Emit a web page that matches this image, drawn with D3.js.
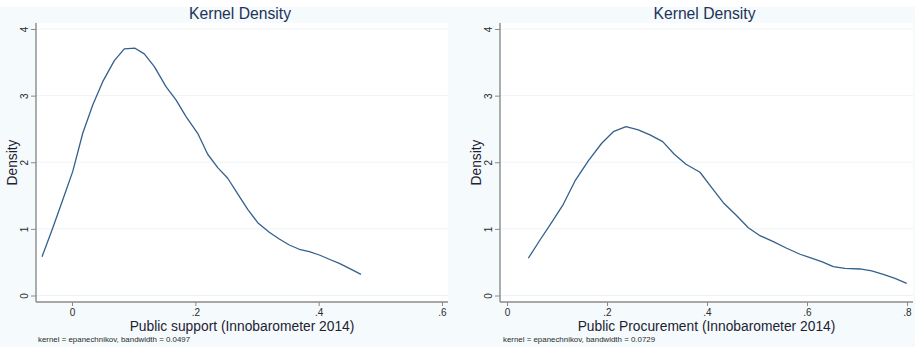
<!DOCTYPE html>
<html>
<head>
<meta charset="utf-8">
<script src="https://cdn.jsdelivr.net/npm/d3@7"></script>
<style>
  html, body { margin: 0; padding: 0; background: #f5fafc; }
  svg { display: block; font-family: "Liberation Sans", Arial, sans-serif; }
</style>
</head>
<body>
<svg id="chart" width="915" height="347"></svg>
<script>
// ---- data ----
const leftX = [-0.0486, -0.0324, -0.0151, 0.0011, 0.0174, 0.0336, 0.0498, 0.0686, 0.0848, 0.1022,
  0.1172, 0.1335, 0.1524, 0.1686, 0.1849, 0.2038, 0.2200, 0.2363, 0.2525, 0.2687,
  0.2849, 0.3012, 0.3199, 0.3361, 0.3524, 0.3686, 0.3848, 0.4010, 0.4172, 0.4334,
  0.4497, 0.4686];
const leftY = [0.583, 0.983, 1.434, 1.859, 2.435, 2.860, 3.210, 3.526, 3.701, 3.712,
  3.626, 3.435, 3.135, 2.935, 2.685, 2.435, 2.120, 1.919, 1.760, 1.524,
  1.294, 1.093, 0.949, 0.848, 0.758, 0.694, 0.658, 0.608, 0.544, 0.483,
  0.408, 0.318];

const rightX = [0.0426, 0.066, 0.0894, 0.1126, 0.136, 0.1626, 0.1894, 0.2126, 0.238, 0.2626,
  0.286, 0.3114, 0.3346, 0.358, 0.386, 0.4094, 0.4326, 0.458, 0.4826, 0.506,
  0.5326, 0.5594, 0.586, 0.606, 0.6294, 0.6526, 0.676, 0.706, 0.7294, 0.7526,
  0.776, 0.7994];
const rightY = [0.559, 0.833, 1.099, 1.369, 1.719, 2.020, 2.285, 2.459, 2.535, 2.485,
  2.410, 2.309, 2.120, 1.970, 1.850, 1.619, 1.393, 1.209, 1.018, 0.898,
  0.808, 0.709, 0.619, 0.568, 0.508, 0.432, 0.408, 0.398, 0.368, 0.318,
  0.258, 0.183];

const yTicks = [0, 1, 2, 3, 4];
const leftXTicks = [0, 0.2, 0.4, 0.6];
const rightXTicks = [0, 0.2, 0.4, 0.6, 0.8];

const titleText = "Kernel Density";
const yTitle = "Density";
const leftXTitle = "Public support (Innobarometer 2014)";
const rightXTitle = "Public Procurement (Innobarometer 2014)";
const leftNote = "kernel = epanechnikov, bandwidth = 0.0497";
const rightNote = "kernel = epanechnikov, bandwidth = 0.0729";

// ---- layout ----
const panels = [
  { xs: leftX, ys: leftY, xTicks: leftXTicks, xDomain: [-0.0584, 0.6097],
    left: 36, right: 448, xTitle: leftXTitle, note: leftNote, noteX: 38 },
  { xs: rightX, ys: rightY, xTicks: rightXTicks, xDomain: [-0.014, 0.812],
    left: 500, right: 913, xTitle: rightXTitle, note: rightNote, noteX: 503 }
];
const plotTop = 23, axisY = 302;
const y = d3.scaleLinear().domain([0, 4]).range([295.5, 29]);
const fmt = v => v === 0 ? "0" : d3.format(".1f")(v).replace(/^0/, "");

const svg = d3.select("#chart");
svg.append("rect").attr("x", 0).attr("y", 0).attr("width", 915).attr("height", 347).attr("fill", "#f5fafc");
svg.append("rect").attr("x", 0).attr("y", 0).attr("width", 915).attr("height", 7).attr("fill", "#ffffff");

panels.forEach(p => {
  const x = d3.scaleLinear().domain(p.xDomain).range([p.left, p.right]);
  const g = svg.append("g");

  // plot region
  g.append("rect").attr("x", p.left).attr("y", plotTop)
    .attr("width", p.right - p.left).attr("height", axisY - plotTop).attr("fill", "#ffffff");

  // grid
  g.selectAll("line.grid").data(yTicks).join("line")
    .attr("x1", p.left).attr("x2", p.right)
    .attr("y1", d => y(d)).attr("y2", d => y(d))
    .attr("stroke", "#eef3f5").attr("stroke-width", 1);

  // y axis
  const ya = g.append("g").attr("transform", `translate(${p.left},0)`)
    .call(d3.axisLeft(y).tickValues(yTicks).tickSize(5).tickFormat(d3.format("d")));
  ya.select(".domain").remove();
  ya.selectAll(".tick line").attr("stroke", "#8a8a8a").attr("stroke-width", 1);
  ya.selectAll(".tick text")
    .attr("x", 0).attr("dy", 0).attr("text-anchor", "middle")
    .attr("transform", "translate(-8,0) rotate(-90)")
    .attr("font-size", 10).attr("fill", "#2a2a2a")
    .style("font-family", "'Liberation Sans', Arial, sans-serif");
  g.append("line").attr("x1", p.left).attr("x2", p.left).attr("y1", plotTop).attr("y2", axisY)
    .attr("stroke", "#8a8a8a").attr("stroke-width", 1.4);

  // x axis
  const xa = g.append("g").attr("transform", `translate(0,${axisY})`)
    .call(d3.axisBottom(x).tickValues(p.xTicks).tickSize(4).tickFormat(fmt));
  xa.select(".domain").remove();
  xa.selectAll(".tick line").attr("stroke", "#8a8a8a").attr("stroke-width", 1);
  xa.selectAll(".tick text").attr("y", 7).attr("dy", "0.71em")
    .attr("font-size", 10).attr("fill", "#2a2a2a")
    .style("font-family", "'Liberation Sans', Arial, sans-serif");
  g.append("line").attr("x1", p.left).attr("x2", p.right).attr("y1", axisY).attr("y2", axisY)
    .attr("stroke", "#8a8a8a").attr("stroke-width", 1.4);

  // density line
  const pts = p.xs.map((v, i) => [v, p.ys[i]]);
  g.append("path").datum(pts)
    .attr("d", d3.line().x(d => x(d[0])).y(d => y(d[1])))
    .attr("fill", "none").attr("stroke", "#34608c").attr("stroke-width", 1.3)
    .attr("stroke-linejoin", "round");

  const cx = (p.left + p.right) / 2;
  // title
  g.append("text").attr("x", cx - 2).attr("y", 18.5).attr("text-anchor", "middle")
    .attr("font-size", 15.7).attr("fill", "#1f3358").text(titleText);
  // x title
  g.append("text").attr("x", cx).attr("y", 330.5).attr("text-anchor", "middle")
    .attr("font-size", 13.8).attr("fill", "#1e2233").text(p.xTitle);
  // y title
  g.append("text").attr("transform", `translate(${p.left - 19},${(plotTop + axisY) / 2}) rotate(-90)`)
    .attr("text-anchor", "middle").attr("font-size", 13.8).attr("fill", "#1e2233").text(yTitle);
  // note
  g.append("text").attr("x", p.noteX).attr("y", 342).attr("font-size", 7.9)
    .attr("fill", "#2a2a2a").text(p.note);
});
</script>
</body>
</html>
